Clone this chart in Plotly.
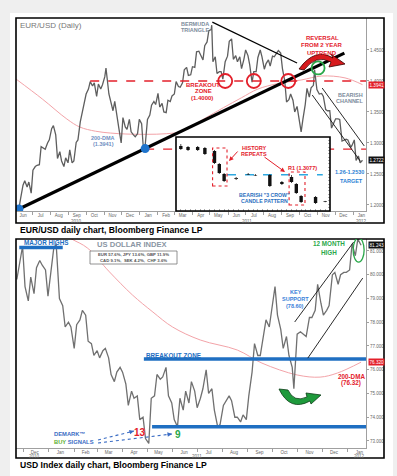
import plotly.graph_objects as go
from datetime import datetime

W, H = 397, 476
FONT = "Liberation Sans, Arial, Helvetica, sans-serif"

# ---------------- EUR/USD (closes) ----------------
eur_dates = [
    "2010-06-04", "2010-06-08", "2010-06-11", "2010-06-15", "2010-06-18", "2010-06-22", "2010-06-25", "2010-06-29",
    "2010-07-02", "2010-07-06", "2010-07-09", "2010-07-13", "2010-07-16", "2010-07-20", "2010-07-23", "2010-07-27", "2010-07-30",
    "2010-08-03", "2010-08-06", "2010-08-10", "2010-08-13", "2010-08-17", "2010-08-20", "2010-08-24", "2010-08-27", "2010-08-31",
    "2010-09-03", "2010-09-07", "2010-09-10", "2010-09-14", "2010-09-17", "2010-09-21", "2010-09-24", "2010-09-28",
    "2010-10-01", "2010-10-05", "2010-10-08", "2010-10-12", "2010-10-15", "2010-10-19", "2010-10-22", "2010-10-26", "2010-10-29",
    "2010-11-02", "2010-11-04", "2010-11-09", "2010-11-12", "2010-11-16", "2010-11-19", "2010-11-23", "2010-11-26", "2010-11-30",
    "2010-12-03", "2010-12-07", "2010-12-10", "2010-12-14", "2010-12-17", "2010-12-21", "2010-12-24", "2010-12-28", "2010-12-31",
    "2011-01-04", "2011-01-07", "2011-01-10", "2011-01-14", "2011-01-18", "2011-01-21", "2011-01-25", "2011-01-28",
    "2011-02-01", "2011-02-04", "2011-02-08", "2011-02-11", "2011-02-15", "2011-02-18", "2011-02-22", "2011-02-25",
    "2011-03-01", "2011-03-04", "2011-03-08", "2011-03-11", "2011-03-15", "2011-03-18", "2011-03-22", "2011-03-25", "2011-03-29",
    "2011-04-01", "2011-04-05", "2011-04-08", "2011-04-12", "2011-04-15", "2011-04-19", "2011-04-22", "2011-04-26", "2011-04-29",
    "2011-05-03", "2011-05-04", "2011-05-06", "2011-05-10", "2011-05-13", "2011-05-17", "2011-05-20", "2011-05-23", "2011-05-27", "2011-05-31",
    "2011-06-03", "2011-06-07", "2011-06-10", "2011-06-14", "2011-06-17", "2011-06-21", "2011-06-24", "2011-06-28",
    "2011-07-01", "2011-07-05", "2011-07-08", "2011-07-12", "2011-07-15", "2011-07-19", "2011-07-22", "2011-07-26", "2011-07-29",
    "2011-08-02", "2011-08-05", "2011-08-09", "2011-08-12", "2011-08-16", "2011-08-19", "2011-08-23", "2011-08-26", "2011-08-30",
    "2011-09-02", "2011-09-06", "2011-09-09", "2011-09-13", "2011-09-16", "2011-09-20", "2011-09-23", "2011-09-27", "2011-09-30",
    "2011-10-04", "2011-10-07", "2011-10-11", "2011-10-14", "2011-10-18", "2011-10-21", "2011-10-25", "2011-10-27", "2011-10-31",
    "2011-11-04", "2011-11-08", "2011-11-11", "2011-11-15", "2011-11-18", "2011-11-22", "2011-11-25", "2011-11-29",
    "2011-12-02", "2011-12-06", "2011-12-09", "2011-12-13", "2011-12-16", "2011-12-20", "2011-12-23", "2011-12-28", "2011-12-30",
    "2012-01-03", "2012-01-06", "2012-01-10", "2012-01-13", "2012-01-17",
]
eur_close = [
    1.1960, 1.1940, 1.2110, 1.2320, 1.2390, 1.2290, 1.2370, 1.2190,
    1.2560, 1.2620, 1.2640, 1.2650, 1.2940, 1.2920, 1.2900, 1.3000, 1.3050,
    1.3230, 1.3280, 1.3130, 1.2750, 1.2860, 1.2710, 1.2620, 1.2760, 1.2680,
    1.2890, 1.2680, 1.2710, 1.3010, 1.3050, 1.3340, 1.3490, 1.3630,
    1.3790, 1.3870, 1.3990, 1.3920, 1.3970, 1.3750, 1.3950, 1.3870, 1.3940,
    1.4070, 1.4210, 1.3790, 1.3690, 1.3520, 1.3670, 1.3380, 1.3240, 1.3000,
    1.3410, 1.3260, 1.3220, 1.3380, 1.3180, 1.3130, 1.3100, 1.3150, 1.3380,
    1.3310, 1.2910, 1.2950, 1.3380, 1.3450, 1.3610, 1.3670, 1.3620,
    1.3800, 1.3580, 1.3640, 1.3500, 1.3490, 1.3690, 1.3670, 1.3760,
    1.3790, 1.3990, 1.3910, 1.3900, 1.3970, 1.4180, 1.4220, 1.4090, 1.4100,
    1.4230, 1.4220, 1.4470, 1.4480, 1.4430, 1.4340, 1.4570, 1.4630, 1.4810,
    1.4830, 1.4900, 1.4310, 1.4390, 1.4120, 1.4150, 1.4150, 1.4030, 1.4310, 1.4400,
    1.4640, 1.4680, 1.4350, 1.4410, 1.4310, 1.4390, 1.4200, 1.4350,
    1.4500, 1.4410, 1.4260, 1.3980, 1.4150, 1.4150, 1.4380, 1.4500, 1.4390,
    1.4190, 1.4280, 1.4340, 1.4240, 1.4400, 1.4390, 1.4450, 1.4490, 1.4450,
    1.4200, 1.4000, 1.3660, 1.3700, 1.3790, 1.3690, 1.3500, 1.3590, 1.3390,
    1.3180, 1.3380, 1.3620, 1.3880, 1.3740, 1.3890, 1.3930, 1.4180, 1.3860,
    1.3790, 1.3800, 1.3750, 1.3540, 1.3520, 1.3520, 1.3240, 1.3320,
    1.3390, 1.3390, 1.3380, 1.3030, 1.3040, 1.3060, 1.3050, 1.2930, 1.2960,
    1.3050, 1.2720, 1.2790, 1.2680, 1.2722,
]
eur_dma_dates = ["2010-06-03", "2010-07-18", "2010-08-29", "2010-09-20", "2010-10-17", "2010-11-12", "2010-12-08",
                 "2011-01-12", "2011-02-16", "2011-03-15", "2011-04-19", "2011-05-24", "2011-06-24", "2011-07-22",
                 "2011-08-26", "2011-10-04", "2011-11-08", "2011-12-18", "2012-01-17"]
eur_dma = [1.4032, 1.3710, 1.3387, 1.3258, 1.3190, 1.3160, 1.3145, 1.3140, 1.3150, 1.3190, 1.3380, 1.3570,
           1.3730, 1.3870, 1.3960, 1.4016, 1.4080, 1.4050, 1.3941]

eur_range = ["2010-06-03", "2012-01-23"]
eur_month_ticks = ["2010-06-15", "2010-07-15", "2010-08-15", "2010-09-15", "2010-10-15", "2010-11-15", "2010-12-15",
                   "2011-01-15", "2011-02-15", "2011-03-15", "2011-04-15", "2011-05-15", "2011-06-15", "2011-07-15",
                   "2011-08-15", "2011-09-15", "2011-10-15", "2011-11-15", "2011-12-15", "2012-01-15"]
eur_month_labels = ["Jun", "Jul", "Aug", "Sep", "Oct", "Nov", "Dec", "Jan", "Feb", "Mar", "Apr", "May", "Jun",
                    "Jul", "Aug", "Sep", "Oct", "Nov", "Dec", "Jan"]
eur_year_ticks = ["2010-09-15", "2011-07-03", "2012-01-15"]
eur_year_labels = ["2010", "2011", "2012"]
eur_y_ticks = [1.20, 1.25, 1.30, 1.35, 1.40, 1.45]
eur_y_labels = ["1.2000", "1.2500", "1.3000", "1.3500", "1.4000", "1.4500"]

eur_breakout_level = 1.40
eur_breakout_start = "2010-10-08"
eur_jan_low_level = 1.29
eur_jan_low_start = "2011-01-10"
uptrend_dates = ["2010-06-08", "2011-01-10"]
uptrend_vals = [1.1935, 1.2910]
uptrend_end = "2011-12-17"
triangle_dates = ["2011-05-05", "2011-09-27"]
triangle_vals = [1.495, 1.429]
chan_low_dates = ["2011-10-23", "2012-01-13"]
chan_low_vals = [1.3774, 1.2710]
chan_up_dates = ["2011-11-09", "2012-01-20"]
chan_up_vals = [1.3887, 1.2952]
red_circle_dates = ["2011-05-27", "2011-07-15", "2011-09-12"]
green_circle_date, green_circle_val = "2011-11-02", 1.421

# ---------------- inset candles ----------------
inset_idx = [1, 2.5, 4.5, 6, 8, 9, 10, 12.5, 15, 16.5, 19.5, 22, 24, 25, 26, 29, 31]
inset_open = [1.3932, 1.3903, 1.3903, 1.3873, 1.3784, 1.3397, 1.3100, 1.2951, 1.3100, 1.3070, 1.3070, 1.2862,
              1.3011, 1.2803, 1.2446, 1.2416, 1.2290]
inset_high = [1.3992, 1.3932, 1.3932, 1.3903, 1.3814, 1.3427, 1.3130, 1.3011, 1.3130, 1.3100, 1.3100, 1.2892,
              1.3070, 1.2832, 1.2476, 1.2446, 1.2300]
inset_low = [1.3814, 1.3784, 1.3784, 1.3665, 1.3397, 1.3100, 1.2862, 1.2921, 1.3070, 1.3040, 1.2714, 1.2773,
             1.2832, 1.2505, 1.2238, 1.2208, 1.2260]
inset_close = [1.3843, 1.3814, 1.3814, 1.3695, 1.3427, 1.3130, 1.2892, 1.2981, 1.3085, 1.3055, 1.2743, 1.2803,
               1.2862, 1.2535, 1.2268, 1.2238, 1.2270]
inset_r1 = 1.3077
inset_xrange = [0, 32]
inset_yrange = [1.20, 1.42]

# ---------------- US Dollar Index ----------------
dxy_dates = [
    "2010-11-23", "2010-11-26", "2010-11-30",
    "2010-12-03", "2010-12-07", "2010-12-10", "2010-12-14", "2010-12-17", "2010-12-21", "2010-12-24", "2010-12-28", "2010-12-31",
    "2011-01-04", "2011-01-07", "2011-01-10", "2011-01-14", "2011-01-18", "2011-01-21", "2011-01-25", "2011-01-28",
    "2011-02-01", "2011-02-04", "2011-02-08", "2011-02-11", "2011-02-15", "2011-02-18", "2011-02-22", "2011-02-25",
    "2011-03-01", "2011-03-04", "2011-03-08", "2011-03-11", "2011-03-15", "2011-03-18", "2011-03-22", "2011-03-25", "2011-03-29",
    "2011-04-01", "2011-04-05", "2011-04-08", "2011-04-12", "2011-04-15", "2011-04-19", "2011-04-22", "2011-04-26", "2011-04-29",
    "2011-05-03", "2011-05-06", "2011-05-10", "2011-05-13", "2011-05-17", "2011-05-20", "2011-05-24", "2011-05-27", "2011-05-31",
    "2011-06-03", "2011-06-07", "2011-06-10", "2011-06-14", "2011-06-17", "2011-06-21", "2011-06-24", "2011-06-28",
    "2011-07-01", "2011-07-05", "2011-07-08", "2011-07-12", "2011-07-15", "2011-07-19", "2011-07-22", "2011-07-26", "2011-07-29",
    "2011-08-02", "2011-08-05", "2011-08-09", "2011-08-12", "2011-08-16", "2011-08-19", "2011-08-23", "2011-08-26", "2011-08-30",
    "2011-09-02", "2011-09-06", "2011-09-09", "2011-09-13", "2011-09-16", "2011-09-20", "2011-09-23", "2011-09-27", "2011-09-30",
    "2011-10-04", "2011-10-07", "2011-10-11", "2011-10-14", "2011-10-18", "2011-10-21", "2011-10-25", "2011-10-27", "2011-10-31",
    "2011-11-04", "2011-11-08", "2011-11-11", "2011-11-15", "2011-11-18", "2011-11-22", "2011-11-25", "2011-11-29",
    "2011-12-02", "2011-12-06", "2011-12-09", "2011-12-13", "2011-12-16", "2011-12-20", "2011-12-23", "2011-12-27", "2011-12-30",
    "2012-01-03", "2012-01-06", "2012-01-10", "2012-01-13", "2012-01-17",
]
dxy_close = [
    79.80, 80.40, 81.20,
    79.50, 78.90, 79.90, 79.20, 80.30, 80.60, 80.40, 80.20, 79.10,
    80.20, 81.10, 81.30, 79.00, 78.70, 77.80, 78.00, 77.80,
    76.90, 77.90, 78.10, 78.50, 78.30, 77.20, 77.10, 76.60,
    76.80, 76.50, 76.80, 76.90, 76.50, 75.80, 75.50, 75.90, 76.10,
    75.90, 75.40, 74.50, 75.10, 74.80, 74.90, 73.90, 74.00, 73.10,
    72.90, 74.80, 74.90, 75.80, 75.60, 75.70, 76.10, 74.90, 74.60,
    73.90, 73.60, 74.80, 74.30, 75.10, 74.60, 75.50, 75.10,
    74.40, 74.80, 75.20, 76.00, 75.00, 75.20, 74.30, 73.60, 73.70,
    74.50, 74.70, 74.90, 74.70, 74.00, 74.00, 73.80, 74.10, 73.90,
    74.90, 75.90, 77.10, 76.60, 76.60, 77.40, 78.10, 77.80, 78.60,
    79.50, 78.30, 77.70, 76.90, 77.40, 76.60, 76.10, 75.20, 77.50,
    77.60, 77.50, 77.40, 78.20, 78.20, 78.50, 79.60, 78.80,
    78.30, 78.50, 78.70, 80.00, 80.10, 79.60, 80.00, 80.10, 80.10,
    80.20, 81.30, 80.80, 81.50, 81.243,
]
dxy_dma_dates = ["2010-11-22", "2010-12-22", "2011-01-29", "2011-02-17", "2011-03-16", "2011-04-13", "2011-05-08",
                 "2011-06-01", "2011-07-05", "2011-08-19", "2011-09-18", "2011-10-31", "2011-11-28", "2011-12-19",
                 "2012-01-17"]
dxy_dma = [82.9, 82.2, 81.5, 81.13, 80.12, 79.15, 78.43, 77.80, 77.25, 76.83, 76.28, 75.78, 75.69, 75.86, 76.32]

dxy_range = ["2010-11-22", "2012-01-23"]
dxy_month_ticks = ["2010-12-15", "2011-01-15", "2011-02-15", "2011-03-15", "2011-04-15", "2011-05-15", "2011-06-15",
                   "2011-07-15", "2011-08-15", "2011-09-15", "2011-10-15", "2011-11-15", "2011-12-15", "2012-01-15"]
dxy_month_labels = ["Dec", "Jan", "Feb", "Mar", "Apr", "May", "Jun", "Jul", "Aug", "Sep", "Oct", "Nov", "Dec", "Jan"]
dxy_year_ticks = ["2010-12-15", "2011-07-01", "2012-01-15"]
dxy_year_labels = ["2010", "2011", "2012"]
dxy_y_ticks = [73, 74, 75, 76, 77, 78, 79, 80, 81]
dxy_y_labels = ["73.000", "74.000", "75.000", "76.000", "77.000", "78.000", "79.000", "80.000", "81.000"]

dxy_major_high_level, dxy_major_high_span = 81.15, ["2010-11-26", "2011-01-18"]
dxy_breakout_level, dxy_breakout_start = 76.45, "2011-04-27"
dxy_support_level, dxy_support_start = 73.6, "2011-05-07"
dxy_chan_up_dates, dxy_chan_up_vals = ["2011-10-28", "2012-01-08"], [78.01, 81.38]
dxy_chan_low_dates, dxy_chan_low_vals = ["2011-11-13", "2012-01-19"], [76.49, 79.86]
dxy_high_mark_date, dxy_high_mark_val = "2012-01-14", 81.04
basket_lines = ["EUR 57.6%, JPY 13.6%, GBP 11.9%", "CAD 9.1%,  SEK 4.2%,  CHF 3.6%"]

# ---------------- helpers ----------------
def pp(x, y):
    return x / W, 1 - y / H

def dnum(s):
    return datetime.strptime(s, "%Y-%m-%d").toordinal()

slope = (uptrend_vals[1] - uptrend_vals[0]) / (dnum(uptrend_dates[1]) - dnum(uptrend_dates[0]))
uptrend_end_val = uptrend_vals[0] + slope * (dnum(uptrend_end) - dnum(uptrend_dates[0]))

RED = "#e3202b"
BLUE = "#1f6fc2"
GREEN = "#2aa84a"
GREYTXT = "#7d8c9c"

fig = go.Figure()

def line_trace(x, y, color, width, dash="solid", xa="x", ya="y", shape="linear"):
    fig.add_trace(go.Scatter(x=x, y=y, mode="lines", line=dict(color=color, width=width, dash=dash, shape=shape),
                             xaxis=xa, yaxis=ya, hoverinfo="skip", showlegend=False, connectgaps=False))

# ---- top panel ----
line_trace(eur_dma_dates, eur_dma, "#f3a3a8", 1, shape="spline")
line_trace(eur_dates, eur_close, "#5e5e5e", 1.3)
line_trace([eur_breakout_start, eur_range[1]], [eur_breakout_level] * 2, RED, 1.6, dash="dash")
line_trace([eur_jan_low_start, eur_range[1]], [eur_jan_low_level] * 2, RED, 1.2, dash="dash")
line_trace([uptrend_dates[0], uptrend_end], [uptrend_vals[0], uptrend_end_val], "#000000", 3.2)
line_trace(triangle_dates, triangle_vals, "#000000", 1.2)
line_trace(chan_low_dates, chan_low_vals, "#111111", 0.9)
line_trace(chan_up_dates, chan_up_vals, "#111111", 0.9)
fig.add_trace(go.Scatter(x=uptrend_dates, y=uptrend_vals, mode="markers", marker=dict(color="#1f74cc", size=9),
                         xaxis="x", yaxis="y", hoverinfo="skip", showlegend=False))

# ---- inset (white cover, then candles drawn as line segments) ----
fig.add_trace(go.Scatter(x=[inset_xrange[0], inset_xrange[1], inset_xrange[1], inset_xrange[0], inset_xrange[0]],
                         y=[inset_yrange[0], inset_yrange[0], inset_yrange[1], inset_yrange[1], inset_yrange[0]],
                         fill="toself", fillcolor="white", mode="lines", line=dict(width=0),
                         xaxis="x3", yaxis="y3", hoverinfo="skip", showlegend=False))
line_trace([10.6, 30.5], [inset_r1] * 2, "#2fa8e0", 1.4, dash="dash", xa="x3", ya="y3")
wick_x, wick_y, body_x, body_y, bull_x, bull_y = [], [], [], [], [], []
for i, o, h, l, c in zip(inset_idx, inset_open, inset_high, inset_low, inset_close):
    wick_x += [i, i, None]
    wick_y += [l, h, None]
    body_x += [i, i, None]
    body_y += [o, c, None]
    if c > o:
        bull_x += [i, i, None]
        bull_y += [o + 0.0012, c - 0.0012, None]
line_trace(wick_x, wick_y, "#222222", 0.8, xa="x3", ya="y3")
line_trace(body_x, body_y, "#111111", 3.4, xa="x3", ya="y3")
line_trace(bull_x, bull_y, "#ffffff", 1.8, xa="x3", ya="y3")

# ---- bottom panel ----
line_trace(dxy_dma_dates, dxy_dma, "#f3a3a8", 1, xa="x2", ya="y2", shape="spline")
line_trace(dxy_dates, dxy_close, "#707070", 1.3, xa="x2", ya="y2")
line_trace(dxy_major_high_span, [dxy_major_high_level] * 2, BLUE, 3.5, xa="x2", ya="y2")
line_trace([dxy_breakout_start, dxy_range[1]], [dxy_breakout_level] * 2, BLUE, 3.5, xa="x2", ya="y2")
line_trace([dxy_support_start, dxy_range[1]], [dxy_support_level] * 2, BLUE, 3.5, xa="x2", ya="y2")
line_trace(dxy_chan_up_dates, dxy_chan_up_vals, "#111111", 0.9, xa="x2", ya="y2")
line_trace(dxy_chan_low_dates, dxy_chan_low_vals, "#111111", 0.9, xa="x2", ya="y2")

# ---------------- shapes ----------------
shapes = []
def rect_px(x0, y0, x1, y1, color, width, fill="rgba(0,0,0,0)", layer="above", dash="solid"):
    a0, b0 = pp(x0, y1)
    a1, b1 = pp(x1, y0)
    shapes.append(dict(type="rect", xref="paper", yref="paper", x0=a0, y0=b0, x1=a1, y1=b1,
                       line=dict(color=color, width=width, dash=dash), fillcolor=fill, layer=layer))

rect_px(10, 13, 393, 476, "white", 0, fill="white", layer="below")
rect_px(16, 18, 384, 223, "#000000", 1.6)
rect_px(16, 239, 384, 458, "#000000", 1.6)
rect_px(176, 137, 330, 211, "#000000", 1.6)
rect_px(90, 251, 177, 264, "#777777", 0.8, fill="white")

def circle(xr, yr, xv, yv, rx, ry, color, width):
    shapes.append(dict(type="circle", xref=xr, yref=yr, xsizemode="pixel", ysizemode="pixel",
                       xanchor=xv, yanchor=yv, x0=-rx, x1=rx, y0=-ry, y1=ry,
                       line=dict(color=color, width=width), layer="above"))

for d in red_circle_dates:
    circle("x", "y", d, eur_breakout_level, 7, 7, RED, 1.8)
circle("x", "y", green_circle_date, green_circle_val, 6.5, 6.5, GREEN, 1.8)
circle("x2", "y2", dxy_high_mark_date, dxy_high_mark_val, 5.5, 12, GREEN, 1.3)

# inset dotted boxes
shapes.append(dict(type="rect", xref="x3", yref="y3", x0=7.6, x1=10.6, y0=1.2743, y1=1.3873,
                   line=dict(color=RED, width=1.1, dash="dot"), layer="above"))
shapes.append(dict(type="rect", xref="x3", yref="y3", x0=23.5, x1=26.8, y0=1.2178, y1=1.3159,
                   line=dict(color=RED, width=1.1, dash="dot"), layer="above"))

def path_px(segs):
    out = []
    for seg in segs:
        cmd, pts = seg[0], seg[1:]
        out.append(cmd + " ".join(f"{x / W:.5f},{1 - y / H:.5f}" for x, y in pts))
    return " ".join(out)

red_arrow = path_px([("M", (299, 69)), ("Q", (315, 47), (333, 58)), ("L", (331, 54)), ("L", (345, 64)),
                     ("L", (329, 67)), ("L", (331, 62)), ("Q", (316, 54), (304, 70)), ("Z",)])
shapes.append(dict(type="path", xref="paper", yref="paper", path=red_arrow, fillcolor="#d7191c",
                   line=dict(color="#3a0000", width=0.8), layer="above"))
green_arrow = path_px([("M", (279, 389)), ("L", (288, 390)), ("Q", (294, 403), (307, 397)), ("L", (306, 393)),
                       ("L", (321, 395)), ("L", (311, 404)), ("L", (310, 401)), ("Q", (290, 412), (279, 389)), ("Z",)])
shapes.append(dict(type="path", xref="paper", yref="paper", path=green_arrow, fillcolor="#1e9a3c",
                   line=dict(color="#0b3d17", width=0.8), layer="above"))

# DeMark dotted arrows
for (tx, ty), (hx, hy) in [((98, 440), (134, 431)), ((98, 443), (172, 434))]:
    a0, b0 = pp(tx, ty)
    a1, b1 = pp(hx, hy)
    shapes.append(dict(type="line", xref="paper", yref="paper", x0=a0, y0=b0, x1=a1, y1=b1,
                       line=dict(color="#3a6cc4", width=1.1, dash="dot"), layer="above"))

# ---------------- annotations ----------------
anns = []
def txt(text, x, y, size, color, bold=True, xanchor="center"):
    ax_, ay_ = pp(x, y)
    anns.append(dict(text=f"<b>{text}</b>" if bold else text, x=ax_, y=ay_, xref="paper", yref="paper",
                     showarrow=False, font=dict(size=size, color=color, family=FONT),
                     xanchor=xanchor, yanchor="middle"))

def arrow(head, tail, color, width=1.0):
    hx, hy = pp(*head)
    anns.append(dict(text="", x=hx, y=hy, xref="paper", yref="paper", ax=tail[0] - head[0], ay=tail[1] - head[1],
                     showarrow=True, arrowhead=2, arrowsize=0.9, arrowwidth=width, arrowcolor=color))

# top panel text
txt("EUR/USD (Daily)", 18, 25, 8, "#777777", bold=False, xanchor="left")
txt("BERMUDA", 179, 24, 5.5, GREYTXT, xanchor="left")
txt("TRIANGLE", 179, 30, 5.5, GREYTXT, xanchor="left")
txt("BREAKOUT", 203, 85, 6, RED)
txt("ZONE", 203, 91.5, 6, RED)
txt(f"({eur_breakout_level:.4f})", 202, 98, 6, RED)
txt("200-DMA", 103, 138, 5.5, "#6f8fc2")
txt(f"({eur_dma[-1]:.4f})", 103, 144, 5.5, "#6f8fc2")
txt("REVERSAL", 322, 38, 6, RED)
txt("FROM 2 YEAR", 322, 45, 6, RED)
txt("UPTREND", 322, 52.5, 6, RED)
txt("BEARISH", 350, 95, 5.5, GREYTXT)
txt("CHANNEL", 350, 101, 5.5, GREYTXT)
txt("1.26-1.2530", 349, 172, 5.5, "#2b7fd4")
txt("TARGET", 351, 181, 5.5, "#2b7fd4")
# inset text
txt("HISTORY", 254, 148, 5.5, RED)
txt("REPEATS", 254, 154, 5.5, RED)
txt(f"R1 ({inset_r1:.4f})", 302, 168, 5.5, RED)
txt("BEARISH \"3 CROW\"", 264, 195, 5.2, "#2b6fc0")
txt("CANDLE PATTERN", 264, 201, 5.2, "#2b6fc0")
arrow((229, 161), (239, 150), RED)
arrow((285, 172), (263, 156), RED)
txt("EUR/USD daily chart, Bloomberg Finance LP", 18, 230, 8.6, "#000000", xanchor="left")

# bottom panel text
txt("MAJOR HIGHS", 22, 243, 6.3, BLUE, xanchor="left")
txt("US DOLLAR INDEX", 132, 245, 7.6, "#8a96a3")
txt(basket_lines[0], 133.5, 254.5, 4.3, "#555555")
txt(basket_lines[1], 133.5, 260.5, 4.3, "#555555")
txt("BREAKOUT ZONE", 144, 355, 6.3, BLUE, xanchor="left")
txt("KEY", 296, 292, 5.5, "#3b7fd9")
txt("SUPPORT", 295, 298.5, 5.5, "#3b7fd9")
txt("(78.60)", 295, 305.5, 5.5, "#3b7fd9")
txt("12 MONTH", 329, 244, 6.3, GREEN)
txt("HIGH", 329, 252, 6.3, GREEN)
txt("200-DMA", 351, 376, 6.3, RED)
txt(f"({dxy_dma[-1]:.2f})", 351, 383, 6.3, RED)
txt("DEMARK™", 52, 434, 5.8, "#3a6cc4", xanchor="left")
txt("<span style='color:#5cb030'>BUY</span> SIGNALS", 52, 442, 5.8, "#3a6cc4", xanchor="left")
txt("13", 140, 432, 10, RED)
txt("9", 178, 434, 10, GREEN)
arrow((134, 431), (128, 432.5), "#3a6cc4")
arrow((172, 434), (166, 434.8), "#3a6cc4")
txt("USD Index daily chart, Bloomberg Finance LP", 18, 465, 8.6, "#000000", xanchor="left")

# year labels
for d, lab in zip(eur_year_ticks, eur_year_labels):
    anns.append(dict(text=lab, x=d, y=1 - 221 / H, xref="x", yref="paper", showarrow=False,
                     font=dict(size=4.5, color="#666666", family=FONT), yanchor="middle"))
for d, lab in zip(dxy_year_ticks, dxy_year_labels):
    anns.append(dict(text=lab, x=d, y=1 - 456 / H, xref="x2", yref="paper", showarrow=False,
                     font=dict(size=4.5, color="#666666", family=FONT), yanchor="middle"))

# last-value boxes on right axes
def value_box(yref, val, text, bg):
    anns.append(dict(text=text, x=367.5 / W, y=val, xref="paper", yref=yref, showarrow=False, xanchor="left",
                     yanchor="middle", bgcolor=bg, borderpad=0.5,
                     font=dict(size=4.6, color="white", family=FONT)))

value_box("y", eur_dma[-1], f"{eur_dma[-1]:.4f}", "#e3202b")
value_box("y", eur_close[-1], f"{eur_close[-1]:.4f}", "#111111")
value_box("y2", dxy_close[-1], f"{dxy_close[-1]:.3f}", "#111111")
value_box("y2", dxy_dma[-1], f"{dxy_dma[-1]:.3f}", "#e3202b")

# ---------------- axes ----------------
tickfont = dict(size=4.5, color="#666666", family=FONT)
def xaxis_cfg(dom_y_anchor, rng, tv, tt, tick0):
    return dict(type="date", domain=[16 / W, 366 / W], range=rng, anchor=dom_y_anchor,
                tickmode="array", tickvals=tv, ticktext=tt, ticks="", showgrid=False, zeroline=False,
                showline=True, linecolor="#a0a0a0", linewidth=1, tickfont=tickfont,
                minor=dict(ticks="outside", ticklen=3, tickcolor="#a0a0a0", dtick="M1", tick0=tick0, showgrid=False))

def yaxis_cfg(anchor, dom, rng, tv, tt):
    return dict(domain=dom, range=rng, anchor=anchor, side="right", tickmode="array", tickvals=tv, ticktext=tt,
                ticks="outside", ticklen=2, tickcolor="#a0a0a0", showgrid=False, zeroline=False, showline=True,
                linecolor="#a0a0a0", linewidth=1, tickfont=tickfont)

fig.update_layout(
    width=W, height=H, autosize=False, margin=dict(l=0, r=0, t=0, b=0),
    paper_bgcolor="#efefef", plot_bgcolor="white", showlegend=False,
    font=dict(family=FONT),
    xaxis=xaxis_cfg("y", eur_range, eur_month_ticks, eur_month_labels, "2010-06-01"),
    yaxis=yaxis_cfg("x", [1 - 211 / H, 1 - 18 / H], [1.1903, 1.5016], eur_y_ticks, eur_y_labels),
    xaxis2=xaxis_cfg("y2", dxy_range, dxy_month_ticks, dxy_month_labels, "2010-12-01"),
    yaxis2=yaxis_cfg("x2", [1 - 448 / H, 1 - 239 / H], [72.705, 81.505], dxy_y_ticks, dxy_y_labels),
    xaxis3=dict(domain=[176 / W, 330 / W], range=inset_xrange, anchor="y3", showgrid=False, zeroline=False,
                showticklabels=False, ticks="inside", ticklen=2, tickcolor="#b0b0b0", dtick=1),
    yaxis3=dict(domain=[1 - 211 / H, 1 - 137 / H], range=inset_yrange, anchor="x3", side="right", showgrid=False,
                zeroline=False, showticklabels=False, ticks="inside", ticklen=2, tickcolor="#b0b0b0", dtick=0.01),
    shapes=shapes, annotations=anns,
)

fig.write_html("out.html")
